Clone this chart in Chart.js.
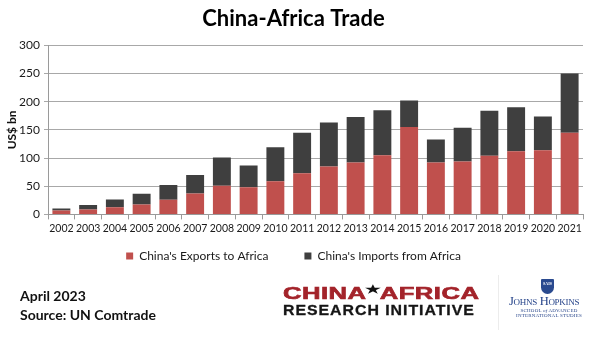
<!DOCTYPE html>
<html>
<head>
<meta charset="utf-8">
<script src="https://cdn.jsdelivr.net/npm/chart.js@4.4.1/dist/chart.umd.min.js"></script>
<style>
  html, body { margin: 0; padding: 0; background: #fff; }
  #wrap { position: relative; width: 596px; height: 337px; overflow: hidden; }
  #tradeChart { position: absolute; left: 0; top: 0; }
  .note { position: absolute; left: 20px; font: bold 14px Lato, sans-serif; color: #111; white-space: nowrap; }
  .cari-top { position: absolute; left: 283px; top: 285px; font: bold 16px "Liberation Sans", Arial, sans-serif; color: #a3232a; letter-spacing: 0.3px; white-space: nowrap; transform: scaleX(1.6); transform-origin: 0 0; -webkit-text-stroke: 0.6px #a3232a; }
  .cari-top .star { color: #111; -webkit-text-stroke: 0; font-size: 11px; position: relative; top: -6px; margin: 0 -1px; }
  .cari-bot { position: absolute; left: 283px; top: 301px; font: bold 15px "Liberation Sans", Arial, sans-serif; color: #151515; letter-spacing: 0.9px; white-space: nowrap; transform: scaleX(1.06); transform-origin: 0 0; -webkit-text-stroke: 0.3px #151515; }
  .sep { position: absolute; left: 498px; top: 275px; width: 1px; height: 55px; background: #ececec; }
  .shield { position: absolute; left: 541px; top: 279px; width: 13px; height: 15px; background: #2a4a8f; border-radius: 1px 1px 7px 7px; color: #fff; font: bold 4px "Liberation Serif", serif; text-align: center; line-height: 10px; }
  .jhu { position: absolute; left: 509px; top: 294px; font: 12.5px "Liberation Serif", serif; color: #26448a; font-variant: small-caps; white-space: nowrap; letter-spacing: -0.3px; }
  .sais { position: absolute; left: 509px; width: 80px; text-align: center; font: 5px "Liberation Serif", serif; color: #26448a; white-space: nowrap; letter-spacing: 0.2px; }
</style>
</head>
<body>
<div id="wrap">
  <canvas id="tradeChart" width="596" height="337"></canvas>
  <div class="note" style="top:287px">April 2023</div>
  <div class="note" style="top:306px">Source: UN Comtrade</div>
  <div class="cari-top">CHINA<span class="star">★</span>AFRICA</div>
  <div class="cari-bot">RESEARCH INITIATIVE</div>
  <div class="sep"></div>
  <div class="shield">SAIS</div>
  <div class="jhu">Johns Hopkins</div>
  <div class="sais" style="top:308px">SCHOOL <i>of</i> ADVANCED</div>
  <div class="sais" style="top:313px">INTERNATIONAL STUDIES</div>
</div>
<script>
// trade values, US$ bn
const years = ['2002', '2003', '2004', '2005', '2006', '2007', '2008', '2009', '2010', '2011',
               '2012', '2013', '2014', '2015', '2016', '2017', '2018', '2019', '2020', '2021'];
const exportsToAfrica = [7, 8.5, 12.5, 17.5, 26, 37, 51, 48, 59, 73, 85, 92, 105, 155, 92, 94, 104, 112, 114, 145];
const importsFromAfrica = [3.5, 8, 14, 19, 26, 33, 50, 39, 60, 72, 78, 81, 80, 47, 41, 60, 80, 78, 60, 105];
const yTicks = [0, 50, 100, 150, 200, 250, 300];

const FONT = 'Lato, "Open Sans", sans-serif';

// pull the legend up closer to the axis labels while keeping wide spacing between items
const legendShift = {
    id: 'legendShift',
    afterLayout(chart) {
        const lg = chart.legend;
        if (!lg) return;
        lg.top -= 24;
        lg.bottom -= 24;
    }
};

new Chart(document.getElementById('tradeChart'), {
    type: 'bar',
    data: {
        labels: years,
        datasets: [
            { label: "China's Exports to Africa", data: exportsToAfrica, backgroundColor: '#c0504d' },
            { label: "China's Imports from Africa", data: importsFromAfrica, backgroundColor: '#3f3f3f' }
        ]
    },
    options: {
        responsive: false,
        animation: false,
        layout: { padding: { left: 4, right: 13, top: 0, bottom: 41 } },
        datasets: { bar: { barPercentage: 0.67, categoryPercentage: 1, borderWidth: 0 } },
        scales: {
            x: {
                stacked: true,
                grid: { offset: true, drawOnChartArea: false, drawTicks: true, tickLength: 5, color: '#9a9a9a' },
                border: { color: '#9a9a9a' },
                ticks: { font: { family: FONT, size: 10.5 }, color: '#1a1a1a', padding: 3, maxRotation: 0, autoSkip: false }
            },
            y: {
                stacked: true,
                min: 0,
                max: 300,
                afterBuildTicks: (s) => { s.ticks = yTicks.map(v => ({ value: v })); },
                afterFit: (s) => { s.width = 44; },
                grid: { color: '#a8a8a8', tickLength: 4 },
                border: { color: '#9a9a9a' },
                ticks: { font: { family: FONT, size: 12 }, color: '#1a1a1a', padding: 4 },
                title: { display: true, text: 'US$ bn', font: { family: FONT, size: 12, weight: 'bold' }, color: '#111', padding: { top: 1, bottom: 0 } }
            }
        },
        plugins: {
            title: {
                display: true,
                text: 'China-Africa Trade',
                font: { family: FONT, size: 22, weight: 'bold' },
                color: '#000',
                padding: { top: 6, bottom: 13 }
            },
            legend: {
                position: 'bottom',
                labels: { boxWidth: 7, boxHeight: 7, padding: 36, font: { family: FONT, size: 12 }, color: '#1a1a1a' }
            },
            tooltip: { enabled: false }
        }
    },
    plugins: [legendShift]
});
</script>
</body>
</html>
